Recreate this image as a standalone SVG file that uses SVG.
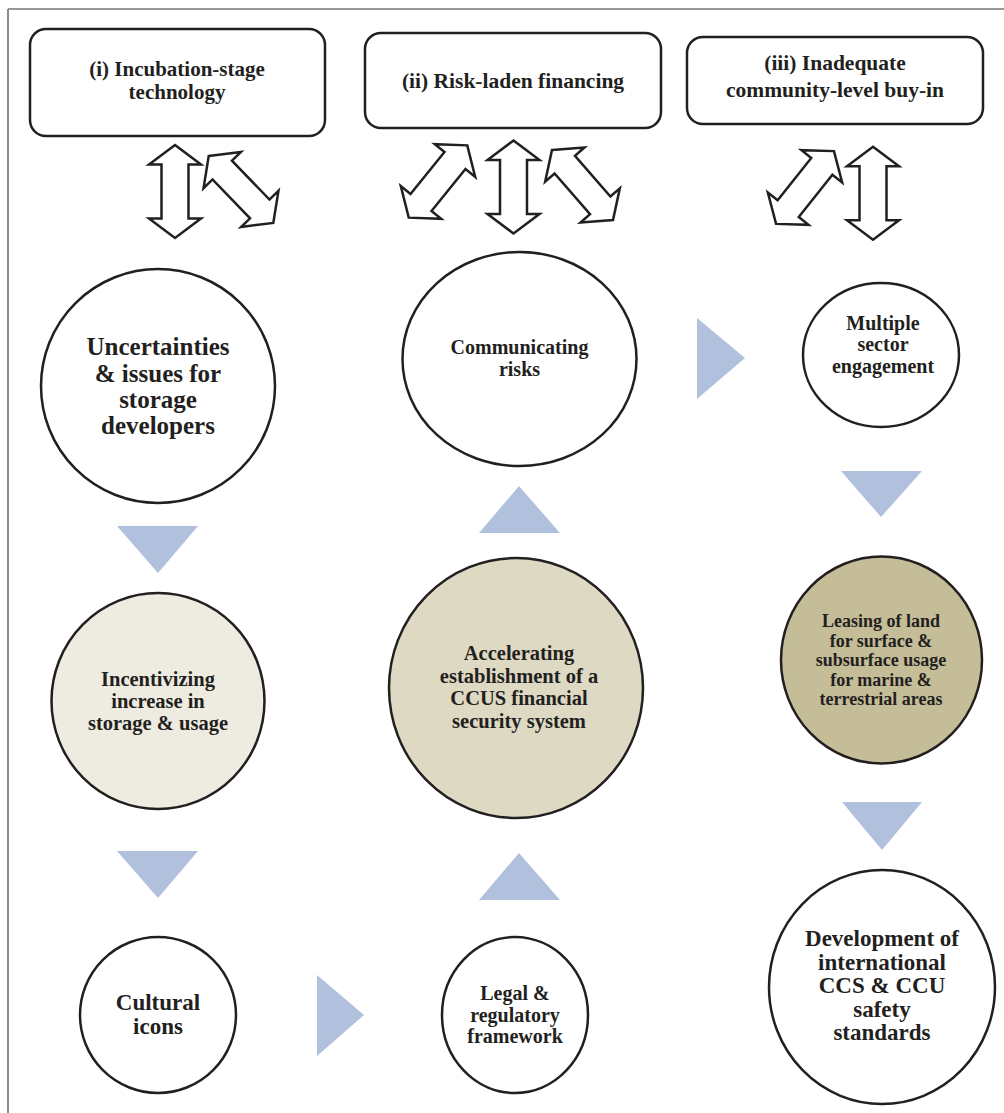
<svg xmlns="http://www.w3.org/2000/svg" xmlns:xlink="http://www.w3.org/1999/xlink" width="1004" height="1113" viewBox="0 0 1004 1113">
<style>
  text { font-family: "Liberation Serif", "Times New Roman", serif; font-weight: bold; fill: #231f20; text-anchor: middle; }
  .box { fill: #ffffff; stroke: #231f20; stroke-width: 2.5; }
  .node { stroke: #231f20; stroke-width: 2.5; }
  .dbl { fill: #ffffff; stroke: #231f20; stroke-width: 2.5; stroke-linejoin: miter; }
  .tri { fill: #b1c1dd; stroke: none; }
</style>
<defs>
  <path id="dblarrow" d="M0,-46.5 L26,-27 L13.5,-27 L13.5,27 L26,27 L0,46.5 L-26,27 L-13.5,27 L-13.5,-27 L-26,-27 Z"/>
</defs>
<rect width="1004" height="1113" fill="#ffffff"/>
<g id="frame">
  <line x1="8" y1="9" x2="1004" y2="9" stroke="#333333" stroke-width="1.2"/>
  <line x1="8" y1="9" x2="8" y2="1113" stroke="#8a8a8a" stroke-width="2"/>
</g>

<g id="box-i">
  <rect class="box" x="30" y="29" width="295" height="107" rx="16"/>
  <text x="177" y="76" font-size="21">(i) Incubation-stage</text>
  <text x="177" y="99" font-size="21">technology</text>
</g>
<g id="box-ii">
  <rect class="box" x="365" y="33" width="296" height="95" rx="16"/>
  <text x="513" y="88" font-size="21.5">(ii) Risk-laden financing</text>
</g>
<g id="box-iii">
  <rect class="box" x="687" y="37" width="296" height="87" rx="16"/>
  <text x="835" y="70" font-size="21.5">(iii) Inadequate</text>
  <text x="835" y="97" font-size="21.5">community-level buy-in</text>
</g>

<g id="node-uncertainties">
  <circle class="node" cx="158" cy="386" r="117" fill="#ffffff"/>
  <text x="158" y="355" font-size="25">Uncertainties</text>
  <text x="158" y="382" font-size="25">&amp; issues for</text>
  <text x="158" y="408" font-size="25">storage</text>
  <text x="158" y="434" font-size="25">developers</text>
</g>
<g id="node-incentivizing">
  <ellipse class="node" cx="158" cy="701" rx="106.5" ry="108" fill="#eeece1"/>
  <text x="158" y="686" font-size="20.5">Incentivizing</text>
  <text x="158" y="708" font-size="20.5">increase in</text>
  <text x="158" y="730" font-size="20.5">storage &amp; usage</text>
</g>
<g id="node-cultural">
  <ellipse class="node" cx="158" cy="1015" rx="78" ry="78" fill="#ffffff"/>
  <text x="158" y="1010" font-size="23">Cultural</text>
  <text x="158" y="1034" font-size="23">icons</text>
</g>

<g id="node-communicating">
  <ellipse class="node" cx="519.5" cy="359" rx="117" ry="107" fill="#ffffff"/>
  <text x="519.5" y="354" font-size="20">Communicating</text>
  <text x="519.5" y="376" font-size="20">risks</text>
</g>
<g id="node-accelerating">
  <ellipse class="node" cx="516" cy="688" rx="127" ry="130" fill="#ddd9c3"/>
  <text x="519" y="660" font-size="20.5">Accelerating</text>
  <text x="519" y="682.5" font-size="20.5">establishment of a</text>
  <text x="519" y="705" font-size="20.5">CCUS financial</text>
  <text x="519" y="727.5" font-size="20.5">security system</text>
</g>
<g id="node-legal">
  <ellipse class="node" cx="515" cy="1015" rx="73" ry="78" fill="#ffffff"/>
  <text x="515" y="1000" font-size="20">Legal &amp;</text>
  <text x="515" y="1021.5" font-size="20">regulatory</text>
  <text x="515" y="1043" font-size="20">framework</text>
</g>

<g id="node-multiple">
  <ellipse class="node" cx="881" cy="355" rx="78" ry="72" fill="#ffffff"/>
  <text x="883" y="329.5" font-size="20">Multiple</text>
  <text x="883" y="351" font-size="20">sector</text>
  <text x="883" y="372.5" font-size="20">engagement</text>
</g>
<g id="node-leasing">
  <ellipse class="node" cx="881.5" cy="660" rx="100.5" ry="103.5" fill="#c4bd97"/>
  <text x="881" y="627" font-size="18">Leasing of land</text>
  <text x="881" y="646.5" font-size="18">for surface &amp;</text>
  <text x="881" y="666" font-size="18">subsurface usage</text>
  <text x="881" y="685.5" font-size="18">for marine &amp;</text>
  <text x="881" y="705" font-size="18">terrestrial areas</text>
</g>
<g id="node-development">
  <ellipse class="node" cx="882" cy="987" rx="113" ry="117" fill="#ffffff"/>
  <text x="882" y="946" font-size="23">Development of</text>
  <text x="882" y="969.5" font-size="23">international</text>
  <text x="882" y="993" font-size="23">CCS &amp; CCU</text>
  <text x="882" y="1016.5" font-size="23">safety</text>
  <text x="882" y="1040" font-size="23">standards</text>
</g>

<g id="connectors">
  <use xlink:href="#dblarrow" class="dbl" transform="translate(175,191.5)"/>
  <use xlink:href="#dblarrow" class="dbl" transform="translate(241,189.5) rotate(-44)"/>
  <use xlink:href="#dblarrow" class="dbl" transform="translate(438,181.5) rotate(39)"/>
  <use xlink:href="#dblarrow" class="dbl" transform="translate(513.5,187)"/>
  <use xlink:href="#dblarrow" class="dbl" transform="translate(582.5,185) rotate(-41)"/>
  <use xlink:href="#dblarrow" class="dbl" transform="translate(805,187.5) rotate(38.5)"/>
  <use xlink:href="#dblarrow" class="dbl" transform="translate(873,193.3)"/>

  <polygon class="tri" points="117,526 198,526 158,573"/>
  <polygon class="tri" points="117,851 198,851 158,898"/>
  <polygon class="tri" points="479,533 560,533 519,486"/>
  <polygon class="tri" points="479,900 560,900 519,853"/>
  <polygon class="tri" points="841,471 922,471 881,517"/>
  <polygon class="tri" points="842,802 922,802 882,850"/>
  <polygon class="tri" points="697,318 697,399 745,358"/>
  <polygon class="tri" points="317,975 317,1056 364,1015"/>
</g>
</svg>
